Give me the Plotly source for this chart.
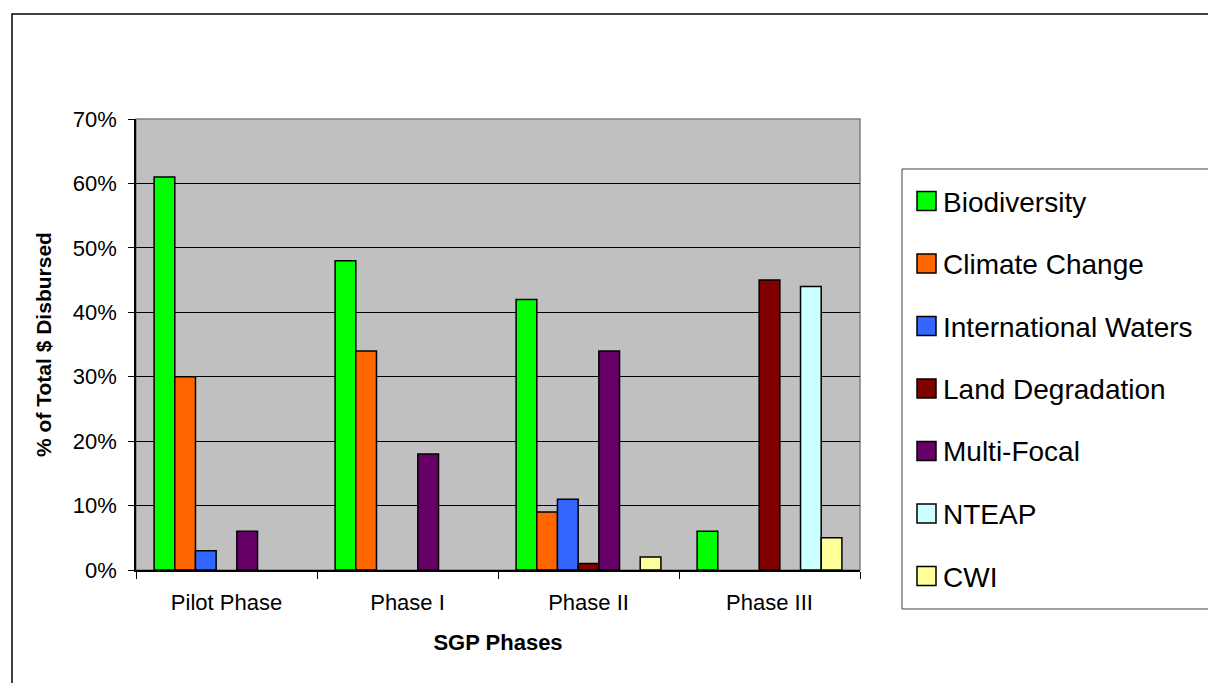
import plotly.graph_objects as go

# Share of total SGP dollars disbursed, by focal area and phase (%)
phases = ["Pilot Phase", "Phase I", "Phase II", "Phase III"]
biodiversity = [61, 48, 42, 6]
climate_change = [30, 34, 9, None]
international_waters = [3, None, 11, None]
land_degradation = [None, None, 1, 45]
multi_focal = [6, 18, 34, None]
nteap = [None, None, None, 44]
cwi = [None, None, 2, 5]

series_names = ["Biodiversity", "Climate Change", "International Waters",
                "Land Degradation", "Multi-Focal", "NTEAP", "CWI"]
series_values = [biodiversity, climate_change, international_waters,
                 land_degradation, multi_focal, nteap, cwi]
series_colors = ["#00FF00", "#FF6600", "#3366FF", "#800000",
                 "#660066", "#CCFFFF", "#FFFF99"]
y_ticks = [0, 10, 20, 30, 40, 50, 60, 70]

W, H = 1208, 683
L, R, T, B = 136, 348, 119, 113
pw, ph = W - L - R, H - T - B


def px(x):
    return (x - L) / pw


def py(y):
    return (H - B - y) / ph


FONT = "Liberation Sans, Arial, sans-serif"

fig = go.Figure()
for name, vals, col in zip(series_names, series_values, series_colors):
    fig.add_trace(go.Bar(
        x=phases, y=vals, name=name,
        marker=dict(color=col, line=dict(color="black", width=1.5)),
        showlegend=False,
    ))

shapes = []
annotations = []

# outer chart frame
shapes.append(dict(type="rect", xref="paper", yref="paper",
                   x0=px(12), x1=px(1230), y0=py(14), y1=py(700),
                   line=dict(color="black", width=1.5), fillcolor="rgba(0,0,0,0)",
                   layer="below"))
# plot area border (grey)
shapes.append(dict(type="rect", xref="paper", yref="paper",
                   x0=0, x1=1, y0=0, y1=1,
                   line=dict(color="#808080", width=1.5), fillcolor="rgba(0,0,0,0)",
                   layer="below"))
# legend frame
shapes.append(dict(type="rect", xref="paper", yref="paper",
                   x0=px(902), x1=px(1230), y0=py(169), y1=py(609),
                   line=dict(color="#404040", width=1), fillcolor="white"))

# legend entries
step = 62.5
for i, (name, col) in enumerate(zip(series_names, series_colors)):
    cy = 201 + i * step
    shapes.append(dict(type="rect", xref="paper", yref="paper",
                       x0=px(917), x1=px(936), y0=py(cy - 9.5), y1=py(cy + 9.5),
                       line=dict(color="black", width=1.5), fillcolor=col))
    annotations.append(dict(xref="paper", yref="paper", x=px(941), y=py(cy + 1),
                            text=name, showarrow=False, xanchor="left",
                            yanchor="middle",
                            font=dict(family=FONT, size=28, color="black")))

fig.update_layout(
    width=W, height=H,
    margin=dict(l=L, r=R, t=T, b=B, autoexpand=False),
    paper_bgcolor="white",
    plot_bgcolor="#C0C0C0",
    barmode="group",
    bargap=0.2,
    bargroupgap=0,
    showlegend=False,
    font=dict(family=FONT, color="black"),
    shapes=shapes,
    annotations=annotations,
    xaxis=dict(
        type="category",
        tickson="boundaries",
        ticks="outside", ticklen=7, tickcolor="black", tickwidth=1,
        ticklabelstandoff=12,
        showline=True, linecolor="black", linewidth=1.5,
        showgrid=False, zeroline=False,
        tickfont=dict(family=FONT, size=22, color="black"),
        title=dict(text="<b>SGP Phases</b>", standoff=20,
                   font=dict(family=FONT, size=22, color="black")),
        automargin=False,
    ),
    yaxis=dict(
        range=[0, 70],
        tickvals=y_ticks,
        ticktext=[f"{v}%" for v in y_ticks],
        ticks="outside", ticklen=6, tickcolor="black", tickwidth=1,
        ticklabelstandoff=7,
        showline=True, linecolor="black", linewidth=1.5,
        showgrid=True, gridcolor="black", gridwidth=1,
        zeroline=False,
        tickfont=dict(family=FONT, size=22, color="black"),
        title=dict(text="<b>% of Total $ Disbursed</b>", standoff=15,
                   font=dict(family=FONT, size=21, color="black")),
        automargin=False,
    ),
)

fig.write_html("out.html")
